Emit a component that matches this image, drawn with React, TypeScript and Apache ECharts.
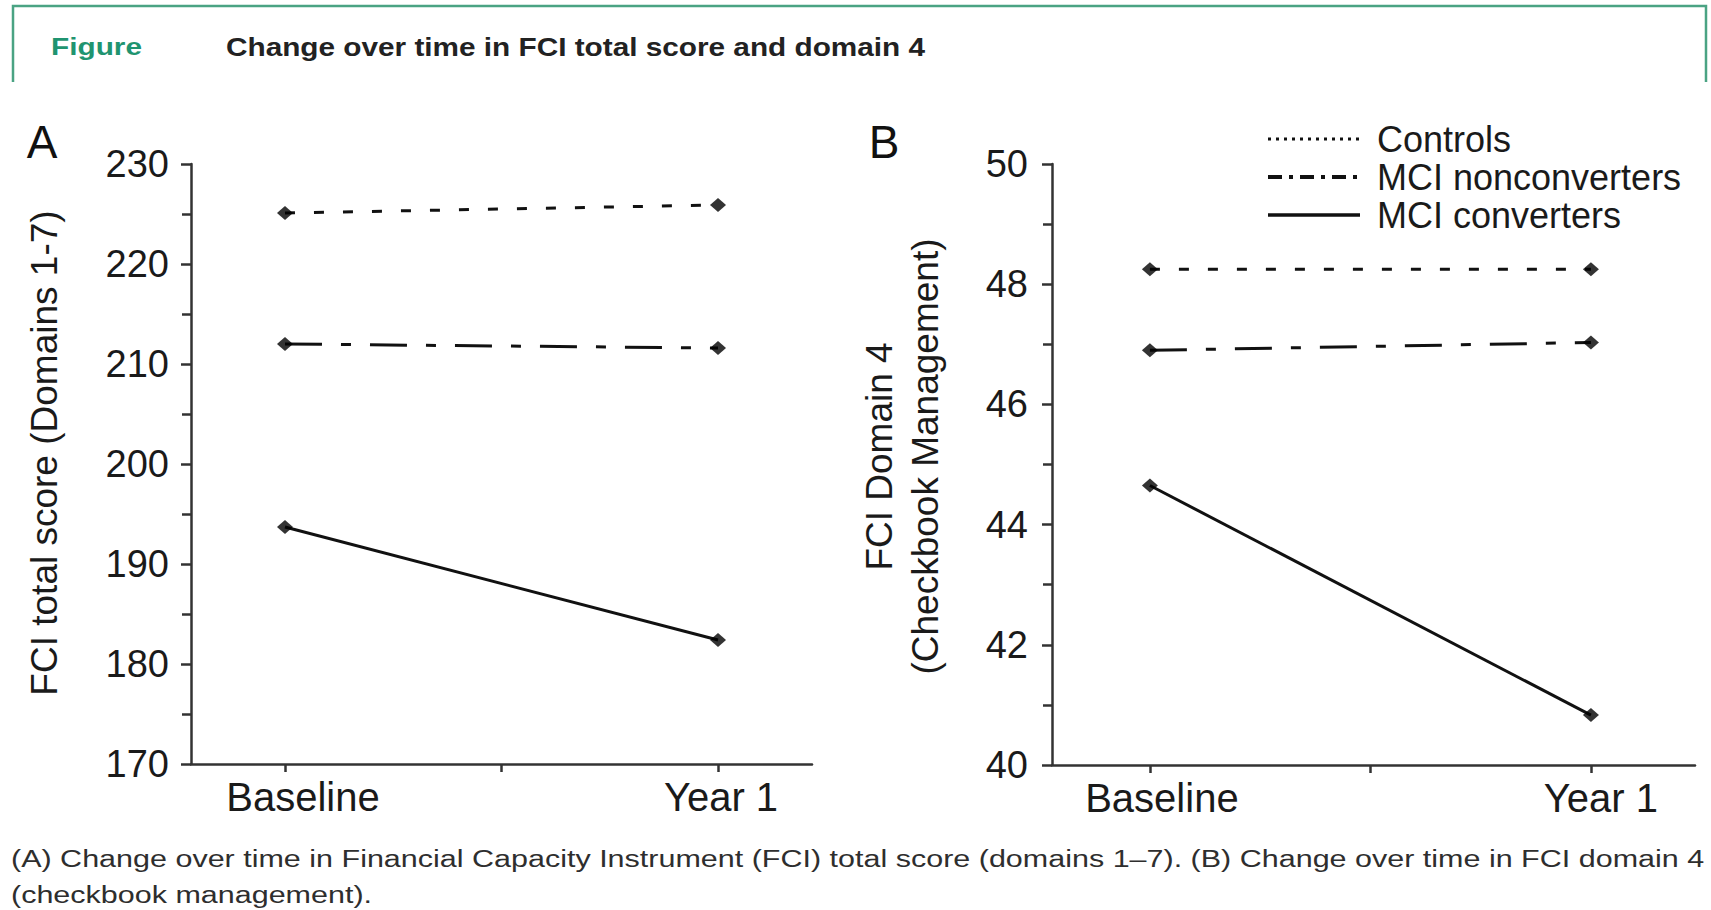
import React, { useEffect, useRef } from 'react';
import * as echarts from 'echarts';

// ---------------- data ----------------
const timepoints = ['Baseline', 'Year 1'];
const timeIndex = [1, 2];
const groups = ['Controls', 'MCI nonconverters', 'MCI converters'];

// Panel A: FCI total score (domains 1-7)
const totalControls = [225.1, 225.9];
const totalNonconverters = [212.0, 211.6];
const totalConverters = [193.7, 182.4];
const totalAxis = [170, 230, 10]; // min, max, step

// Panel B: FCI domain 4 (checkbook management)
const domain4Controls = [48.25, 48.25];
const domain4Nonconverters = [46.9, 47.03];
const domain4Converters = [44.65, 40.83];
const domain4Axis = [40, 50, 2]; // min, max, step

const titleText = 'Change over time in FCI total score and domain 4';
const captionLines = [
  '(A) Change over time in Financial Capacity Instrument (FCI) total score (domains 1\u20137). (B) Change over time in FCI domain 4',
  '(checkbook management).',
];

// ---------------- styles ----------------
const FONT = '"Liberation Sans", Arial, Helvetica, sans-serif';
const INK = '#111';
const AXIS = '#333';
const GREEN = '#4aa383';

const measure = (text: string, font: string) => {
  const c = document.createElement('canvas').getContext('2d');
  if (!c) return text.length * 10;
  c.font = font;
  return c.measureText(text).width;
};

const pts = (vals: number[]) => timeIndex.map((x, i) => [x, vals[i]]);

const dashStyles: Record<string, any> = {
  Controls: [10, 19],
  'MCI nonconverters': [37, 19, 10, 19],
  'MCI converters': 'solid',
};

function lineSeries(name: string, vals: number[], idx: number) {
  return {
    type: 'line',
    name,
    xAxisIndex: idx,
    yAxisIndex: idx,
    data: pts(vals),
    symbol: 'none',
    lineStyle: { color: INK, width: 3, type: dashStyles[name] },
    z: 2,
  };
}

function markerSeries(all: number[][], idx: number) {
  const data: number[][] = [];
  all.forEach((vals) => pts(vals).forEach((p) => data.push(p)));
  return {
    type: 'scatter',
    name: 'markers' + idx,
    xAxisIndex: idx,
    yAxisIndex: idx,
    data,
    symbol: 'diamond',
    symbolSize: [16, 14],
    itemStyle: { color: '#000' },
    z: 3,
  };
}

function xAxis(idx: number, min: number, max: number, shifts: number[]) {
  const labelStyle = { fontFamily: FONT, fontSize: 40, color: '#1a1a1a' };
  return {
    type: 'value',
    gridIndex: idx,
    min,
    max,
    axisLine: { show: true, onZero: false, lineStyle: { color: AXIS, width: 2.5 } },
    axisTick: { show: true, customValues: [1, 1.5, 2], length: 8, lineStyle: { color: AXIS, width: 2.5 } },
    axisLabel: {
      customValues: timeIndex,
      formatter: (v: number) => {
        const i = Math.round(v) - 1;
        return timepoints[i] !== undefined ? '{t' + i + '|' + timepoints[i] + '}' : '';
      },
      rich: {
        t0: { ...labelStyle, padding: [0, 0, 0, shifts[0] * 2] },
        t1: { ...labelStyle, padding: [0, 0, 0, shifts[1] * 2] },
      },
      ...labelStyle,
      margin: 13,
    },
    splitLine: { show: false },
  };
}

function yAxis(idx: number, range: number[], name: string, nameGap: number, margin: number, lineHeight: number, shift: number) {
  return {
    type: 'value',
    gridIndex: idx,
    min: range[0],
    max: range[1],
    interval: range[2],
    axisLine: { show: true, onZero: false, lineStyle: { color: AXIS, width: 2.5 } },
    axisTick: { show: true, length: 10, lineStyle: { color: AXIS, width: 2.5 } },
    minorTick: { show: true, splitNumber: 2, length: 9, lineStyle: { color: AXIS, width: 2.5 } },
    splitLine: { show: false },
    minorSplitLine: { show: false },
    axisLabel: { fontFamily: FONT, fontSize: 38, color: '#1a1a1a', margin },
    name,
    nameLocation: 'middle',
    nameGap,
    nameMoveOverlap: false,
    nameTextStyle: { fontFamily: FONT, fontSize: 37, color: '#1a1a1a', lineHeight, padding: [0, 0, 0, shift] },
  };
}

export default function App() {
  const ref = useRef<HTMLDivElement>(null);

  useEffect(() => {
    if (!ref.current) return;
    const chart = echarts.init(ref.current, null, { renderer: 'svg' });

    const figFont = 'bold 23px ' + FONT;
    const titleFont = 'bold 25px ' + FONT;
    const capFont = '24px ' + FONT;
    const figScale = 91 / measure('Figure', figFont);
    const titleScale = 699 / measure(titleText, titleFont);
    const capScale = 1694 / measure(captionLines[0], capFont);

    const option: any = {
      animation: false,
      backgroundColor: '#fff',
      textStyle: { fontFamily: FONT },
      grid: [
        { left: 191, top: 164, width: 621, height: 600, outerBoundsMode: 'none', containLabel: false },
        { left: 1052, top: 164, width: 643, height: 601, outerBoundsMode: 'none', containLabel: false },
      ],
      xAxis: [xAxis(0, 0.783, 2.217, [18, 3]), xAxis(1, 0.778, 2.236, [12, 10])],
      yAxis: [
        yAxis(0, totalAxis, 'FCI total score (Domains 1-7)', 128, 22, 37, 22),
        yAxis(1, domain4Axis, 'FCI Domain 4\n(Checkbook Management)', 104, 24, 46, 16),
      ],
      legend: {
        orient: 'vertical',
        left: 1266,
        top: 120,
        padding: 0,
        itemGap: 0,
        itemWidth: 92,
        itemHeight: 10,
        selectedMode: false,
        itemStyle: { opacity: 0 },
        textStyle: { fontFamily: FONT, fontSize: 36, color: '#1a1a1a', lineHeight: 38, padding: [0, 0, 0, 12] },
        data: [
          { name: groups[0], lineStyle: { color: INK, width: 3, type: [3, 5] } },
          { name: groups[1], lineStyle: { color: INK, width: 4, type: [14, 7, 4, 7] } },
          { name: groups[2], lineStyle: { color: INK, width: 3.5, type: 'solid' } },
        ],
      },
      series: [
        lineSeries(groups[0], totalControls, 0),
        lineSeries(groups[1], totalNonconverters, 0),
        lineSeries(groups[2], totalConverters, 0),
        markerSeries([totalControls, totalNonconverters, totalConverters], 0),
        lineSeries(groups[0], domain4Controls, 1),
        lineSeries(groups[1], domain4Nonconverters, 1),
        lineSeries(groups[2], domain4Converters, 1),
        markerSeries([domain4Controls, domain4Nonconverters, domain4Converters], 1),
      ],
      graphic: [
        {
          type: 'polyline',
          shape: { points: [[13, 82], [13, 6], [1706, 6], [1706, 82]] },
          style: { stroke: GREEN, lineWidth: 2.5, fill: 'none' },
          silent: true,
        },
        {
          type: 'text',
          x: 51,
          y: 47,
          scaleX: figScale,
          style: { text: 'Figure', font: figFont, fill: '#1f9470', textVerticalAlign: 'middle', verticalAlign: 'middle' },
        },
        {
          type: 'text',
          x: 226,
          y: 47,
          scaleX: titleScale,
          style: { text: titleText, font: titleFont, fill: '#222', textVerticalAlign: 'middle', verticalAlign: 'middle' },
        },
        {
          type: 'text',
          x: 42,
          y: 142,
          style: { text: 'A', font: '46px ' + FONT, fill: INK, align: 'center', verticalAlign: 'middle', textAlign: 'center', textVerticalAlign: 'middle' },
        },
        {
          type: 'text',
          x: 884,
          y: 142,
          style: { text: 'B', font: '46px ' + FONT, fill: INK, align: 'center', verticalAlign: 'middle', textAlign: 'center', textVerticalAlign: 'middle' },
        },
        ...captionLines.map((t, i) => ({
          type: 'text',
          x: 11,
          y: 859 + i * 36,
          scaleX: capScale,
          style: { text: t, font: capFont, fill: '#2e2e2e', verticalAlign: 'middle', textVerticalAlign: 'middle' },
        })),
      ],
    };

    chart.setOption(option);
    return () => chart.dispose();
  }, []);

  return (
    <div
      ref={ref}
      style={{ position: 'fixed', left: 0, top: 0, width: 1711, height: 910, background: '#fff' }}
    />
  );
}
